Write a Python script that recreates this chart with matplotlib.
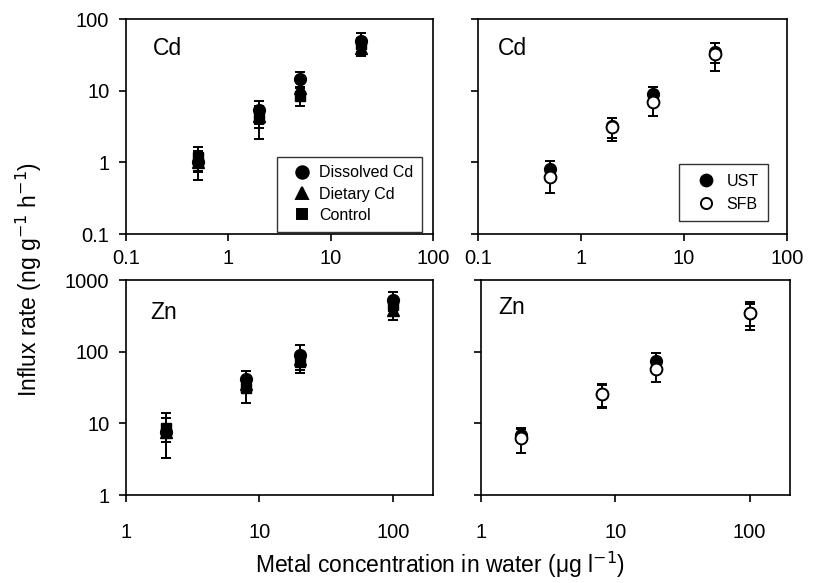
import matplotlib
matplotlib.use("Agg")
import matplotlib.pyplot as plt
from matplotlib.lines import Line2D

plt.rcParams['font.family'] = ['Liberation Sans', 'DejaVu Sans']

# Cd panels (x = metal conc. in water)
cd_x = [0.5, 2, 5, 20]
diss_cd = [1.0, 5.3, 14.7, 49]
diss_cd_err = [0.43, 1.9, 3.3, 15]
diet_cd = [1.0, 4.5, 11, 40]
diet_cd_err = [0.25, 1.5, 2.5, 10]
ctrl_cd = [1.2, 4.1, 8.5, 45]
ctrl_cd_err = [0.46, 2.0, 2.3, 10]

ust_cd = [0.8, 3.2, 9.1, 35]
ust_cd_err = [0.23, 1.0, 2.2, 11]
sfb_cd = [0.62, 3.1, 7.0, 33]
sfb_cd_err = [0.25, 1.1, 2.6, 14]

# Zn panels
zn_x = [2, 8, 20, 100]
diss_zn = [7.6, 41.6, 90, 525]
diss_zn_err = [4.3, 13, 34, 155]
diet_zn = [7.5, 35, 78, 380]
diet_zn_err = [2.0, 8, 15, 103]
ctrl_zn = [8.6, 31, 72, 450]
ctrl_zn_err = [5.3, 12, 21, 120]

ust_zn = [6.9, 25.7, 74, 350]
ust_zn_err = [1.4, 9, 22, 120]
sfb_zn = [6.2, 25.7, 57, 347]
sfb_zn_err = [2.4, 9.4, 19, 147]

fig = plt.figure(figsize=(8.14, 5.83), dpi=100)
ax_tl = fig.add_axes([0.1548, 0.5986, 0.377, 0.3688])
ax_tr = fig.add_axes([0.587, 0.5986, 0.3796, 0.3688])
ax_bl = fig.add_axes([0.1548, 0.1509, 0.377, 0.3688])
ax_br = fig.add_axes([0.591, 0.1509, 0.3796, 0.3688])

ms = 8.5
eb = dict(ecolor='k', elinewidth=1.4, capsize=3.5, capthick=1.4, linestyle='none')


def style(ax, xt, yt, ylab, pad):
    ax.set_xscale('log')
    ax.set_yscale('log')
    ax.set_xlim(xt[0], xt[-1] if len(xt) == 4 else 200)
    ax.set_ylim(yt[0], yt[-1])
    ax.set_xticks(xt, [('%g' % v) for v in xt])
    ax.set_yticks(yt, [('%g' % v) for v in yt] if ylab else [])
    ax.minorticks_off()
    ax.tick_params(direction='out', length=5, width=1.2, labelsize=14.5, color='k')
    ax.tick_params(axis='x', pad=pad)
    ax.tick_params(axis='y', pad=7)
    for s in ax.spines.values():
        s.set_linewidth(1.2)


def handle(mk, fc, size):
    return Line2D([], [], linestyle='none', marker=mk, ms=size, mfc=fc, mec='k', mew=1.4)


# top-left
ax_tl.errorbar(cd_x, ctrl_cd, yerr=ctrl_cd_err, marker='s', ms=ms - 1, mfc='k', mec='k', **eb)
ax_tl.errorbar(cd_x, diet_cd, yerr=diet_cd_err, marker='^', ms=ms, mfc='k', mec='k', **eb)
ax_tl.errorbar(cd_x, diss_cd, yerr=diss_cd_err, marker='o', ms=ms, mfc='k', mec='k', **eb)
style(ax_tl, [0.1, 1, 10, 100], [0.1, 1, 10, 100], True, 6)
leg = ax_tl.legend([handle('o', 'k', 9), handle('^', 'k', 8.5), handle('s', 'k', 7)],
                   ['Dissolved Cd', 'Dietary Cd', 'Control'],
                   loc='lower right', bbox_to_anchor=(0.966, 0.01), fontsize=11.5,
                   frameon=True, fancybox=False, edgecolor='k', handletextpad=0.1, handlelength=2.0,
                   borderpad=0.55, labelspacing=0.4, borderaxespad=0)
leg.get_frame().set_linewidth(1.0)
ax_tl.text(0.088, 0.865, 'Cd', transform=ax_tl.transAxes, fontsize=16.5, va='center', ha='left')

# top-right
ax_tr.errorbar(cd_x, ust_cd, yerr=ust_cd_err, marker='o', ms=ms, mfc='k', mec='k', **eb)
ax_tr.errorbar(cd_x, sfb_cd, yerr=sfb_cd_err, marker='o', ms=ms, mfc='white', mec='k', mew=1.4, **eb)
style(ax_tr, [0.1, 1, 10, 100], [0.1, 1, 10, 100], False, 6)
leg = ax_tr.legend([handle('o', 'k', 8.5), handle('o', 'white', 8)], ['UST', 'SFB'],
                   loc='lower right', bbox_to_anchor=(0.94, 0.06), fontsize=11.5, frameon=True,
                   fancybox=False, edgecolor='k', handletextpad=0.2, handlelength=2.2,
                   borderpad=0.6, labelspacing=0.5, borderaxespad=0)
leg.get_frame().set_linewidth(1.0)
ax_tr.text(0.065, 0.865, 'Cd', transform=ax_tr.transAxes, fontsize=16.5, va='center', ha='left')

# bottom-left
ax_bl.errorbar(zn_x, ctrl_zn, yerr=ctrl_zn_err, marker='s', ms=ms - 1, mfc='k', mec='k', **eb)
ax_bl.errorbar(zn_x, diet_zn, yerr=diet_zn_err, marker='^', ms=ms, mfc='k', mec='k', **eb)
ax_bl.errorbar(zn_x, diss_zn, yerr=diss_zn_err, marker='o', ms=ms, mfc='k', mec='k', **eb)
style(ax_bl, [1, 10, 100], [1, 10, 100, 1000], True, 15)
ax_bl.text(0.08, 0.847, 'Zn', transform=ax_bl.transAxes, fontsize=16.5, va='center', ha='left')

# bottom-right
ax_br.errorbar(zn_x, ust_zn, yerr=ust_zn_err, marker='o', ms=ms, mfc='k', mec='k', **eb)
ax_br.errorbar(zn_x, sfb_zn, yerr=sfb_zn_err, marker='o', ms=ms, mfc='white', mec='k', mew=1.4, **eb)
style(ax_br, [1, 10, 100], [1, 10, 100, 1000], False, 15)
ax_br.text(0.055, 0.87, 'Zn', transform=ax_br.transAxes, fontsize=16.5, va='center', ha='left')

fig.text(0.035, 0.521, 'Influx rate (ng g$^{-1}$ h$^{-1}$)', rotation=90, ha='center', va='center',
         fontsize=16.5)
fig.text(0.54, 0.031, 'Metal concentration in water (\u03bcg l$^{-1}$)', ha='center', va='center',
         fontsize=16.5)

fig.savefig('out.png', dpi=100)
